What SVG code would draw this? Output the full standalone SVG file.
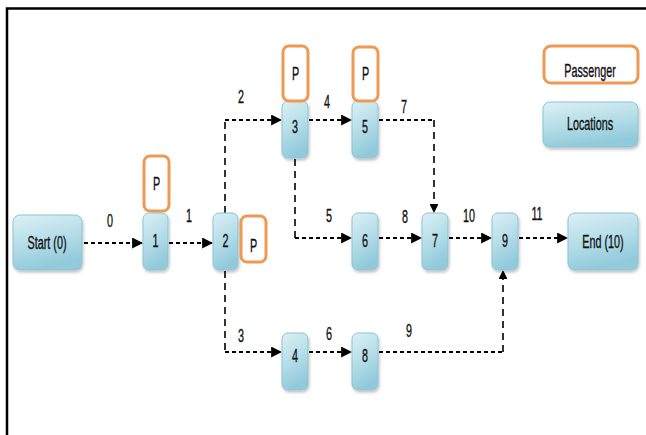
<svg xmlns="http://www.w3.org/2000/svg" width="646" height="435" viewBox="0 0 646 435">
  <defs>
    <linearGradient id="locFill" x1="0" y1="0" x2="0.3" y2="1">
      <stop offset="0" stop-color="#dcf0f5"/>
      <stop offset="0.5" stop-color="#b8dfe9"/>
      <stop offset="1" stop-color="#92cadb"/>
    </linearGradient>
    <filter id="soft" x="-20%" y="-20%" width="140%" height="150%">
      <feGaussianBlur in="SourceAlpha" stdDeviation="1.5"/>
      <feOffset dx="1" dy="2" result="b"/>
      <feComponentTransfer><feFuncA type="linear" slope="0.25"/></feComponentTransfer>
      <feMerge><feMergeNode/><feMergeNode in="SourceGraphic"/></feMerge>
    </filter>
    <marker id="arrow" viewBox="0 0 10 10" refX="9" refY="5" markerWidth="5.5" markerHeight="5.5" orient="auto">
      <path d="M0,0 L10,5 L0,10 z" fill="#000"/>
    </marker>
  </defs>
  <style>
    .loc { fill: url(#locFill); stroke: #8cc3d2; stroke-width: 1; filter: url(#soft); }
    .pax { fill: #ffffff; stroke: #ee9a52; stroke-width: 3; }
    .lbl { font-family: "Liberation Sans", Arial, sans-serif; font-size: 18px; fill: #111; stroke: #111; stroke-width: 0.35; text-anchor: middle; }
    .edge { fill: none; stroke: #000; stroke-width: 2; stroke-dasharray: 4 3; }
    .vert { fill: none; stroke: #000; stroke-width: 1.6; stroke-dasharray: 7 5; }
    .arr { marker-end: url(#arrow); }
  </style>

  <rect width="646" height="435" fill="#ffffff"/>
  <!-- frame -->
  <path d="M7,435 V8.5 H646" fill="none" stroke="#000" stroke-width="2.5"/>

  <!-- connectors -->
  <g id="connectors">
    <path class="edge arr" d="M84,243 H142"/>
    <path class="edge arr" d="M169,243 H212"/>
    <path class="vert" d="M225,213 V120"/>
    <path class="edge arr" d="M225,120 H281"/>
    <path class="vert" d="M225,271 V352"/>
    <path class="edge arr" d="M225,352 H281"/>
    <path class="edge arr" d="M309,120 H351"/>
    <path class="edge" d="M379,120 H434"/>
    <path class="vert arr" d="M434,120 V212"/>
    <path class="vert" d="M295,159 V238"/>
    <path class="edge arr" d="M295,238 H351"/>
    <path class="edge arr" d="M379,238 H421"/>
    <path class="edge arr" d="M449,238 H491"/>
    <path class="edge arr" d="M519,238 H567"/>
    <path class="edge arr" d="M309,352 H351"/>
    <path class="edge" d="M379,352 H503"/>
    <path class="vert arr" d="M503,352 V271"/>
    <!-- edge labels -->
    <text class="lbl" transform="translate(110,227) scale(0.6,1)">0</text>
    <text class="lbl" transform="translate(189,222) scale(0.6,1)">1</text>
    <text class="lbl" transform="translate(241,103) scale(0.6,1)">2</text>
    <text class="lbl" transform="translate(241,342) scale(0.6,1)">3</text>
    <text class="lbl" transform="translate(327,108) scale(0.6,1)">4</text>
    <text class="lbl" transform="translate(404,113) scale(0.6,1)">7</text>
    <text class="lbl" transform="translate(329,222) scale(0.6,1)">5</text>
    <text class="lbl" transform="translate(405,223) scale(0.6,1)">8</text>
    <text class="lbl" transform="translate(469,222) scale(0.6,1)">10</text>
    <text class="lbl" transform="translate(537,220) scale(0.6,1)">11</text>
    <text class="lbl" transform="translate(329,340) scale(0.6,1)">6</text>
    <text class="lbl" transform="translate(409,337) scale(0.6,1)">9</text>
  </g>

  <!-- location nodes -->
  <g id="start"><rect class="loc" x="13" y="215" width="69" height="55" rx="7"/><text class="lbl" transform="translate(47,249) scale(0.6,1)">Start (0)</text></g>
  <g id="loc1"><rect class="loc" x="143" y="213" width="25" height="57" rx="6"/><text class="lbl" transform="translate(155.5,247) scale(0.6,1)">1</text></g>
  <g id="loc2"><rect class="loc" x="213" y="213" width="25" height="57" rx="6"/><text class="lbl" transform="translate(225.5,247) scale(0.6,1)">2</text></g>
  <g id="loc3"><rect class="loc" x="282" y="101" width="26" height="57" rx="6"/><text class="lbl" transform="translate(295,133) scale(0.6,1)">3</text></g>
  <g id="loc5"><rect class="loc" x="352" y="101" width="26" height="57" rx="6"/><text class="lbl" transform="translate(365,133) scale(0.6,1)">5</text></g>
  <g id="loc6"><rect class="loc" x="352" y="213" width="26" height="57" rx="6"/><text class="lbl" transform="translate(365,247) scale(0.6,1)">6</text></g>
  <g id="loc7"><rect class="loc" x="422" y="213" width="26" height="57" rx="6"/><text class="lbl" transform="translate(435,247) scale(0.6,1)">7</text></g>
  <g id="loc9"><rect class="loc" x="492" y="213" width="26" height="57" rx="6"/><text class="lbl" transform="translate(505,247) scale(0.6,1)">9</text></g>
  <g id="end"><rect class="loc" x="568" y="213" width="70" height="57" rx="7"/><text class="lbl" transform="translate(603,248) scale(0.6,1)">End (10)</text></g>
  <g id="loc4"><rect class="loc" x="282" y="333" width="26" height="57" rx="6"/><text class="lbl" transform="translate(295,362) scale(0.6,1)">4</text></g>
  <g id="loc8"><rect class="loc" x="352" y="333" width="26" height="57" rx="6"/><text class="lbl" transform="translate(365,362) scale(0.6,1)">8</text></g>

  <!-- passenger markers -->
  <g id="pax1"><rect class="pax" x="144" y="156" width="25" height="55" rx="6"/><text class="lbl" transform="translate(156.5,190) scale(0.6,1)">P</text></g>
  <g id="pax2"><rect class="pax" x="241" y="216" width="25" height="46" rx="6"/><text class="lbl" transform="translate(253.5,252) scale(0.6,1)">P</text></g>
  <g id="pax3"><rect class="pax" x="283" y="46" width="25" height="55" rx="6"/><text class="lbl" transform="translate(295.5,80) scale(0.6,1)">P</text></g>
  <g id="pax5"><rect class="pax" x="353" y="47" width="25" height="54" rx="6"/><text class="lbl" transform="translate(365.5,80) scale(0.6,1)">P</text></g>

  <!-- legend -->
  <g id="legend-passenger"><rect class="pax" x="544" y="46" width="94" height="37" rx="7"/><text class="lbl" transform="translate(590,77) scale(0.6,1)">Passenger</text></g>
  <g id="legend-locations"><rect class="loc" x="543" y="102" width="95" height="45" rx="7"/><text class="lbl" transform="translate(590,130) scale(0.6,1)">Locations</text></g>
</svg>
